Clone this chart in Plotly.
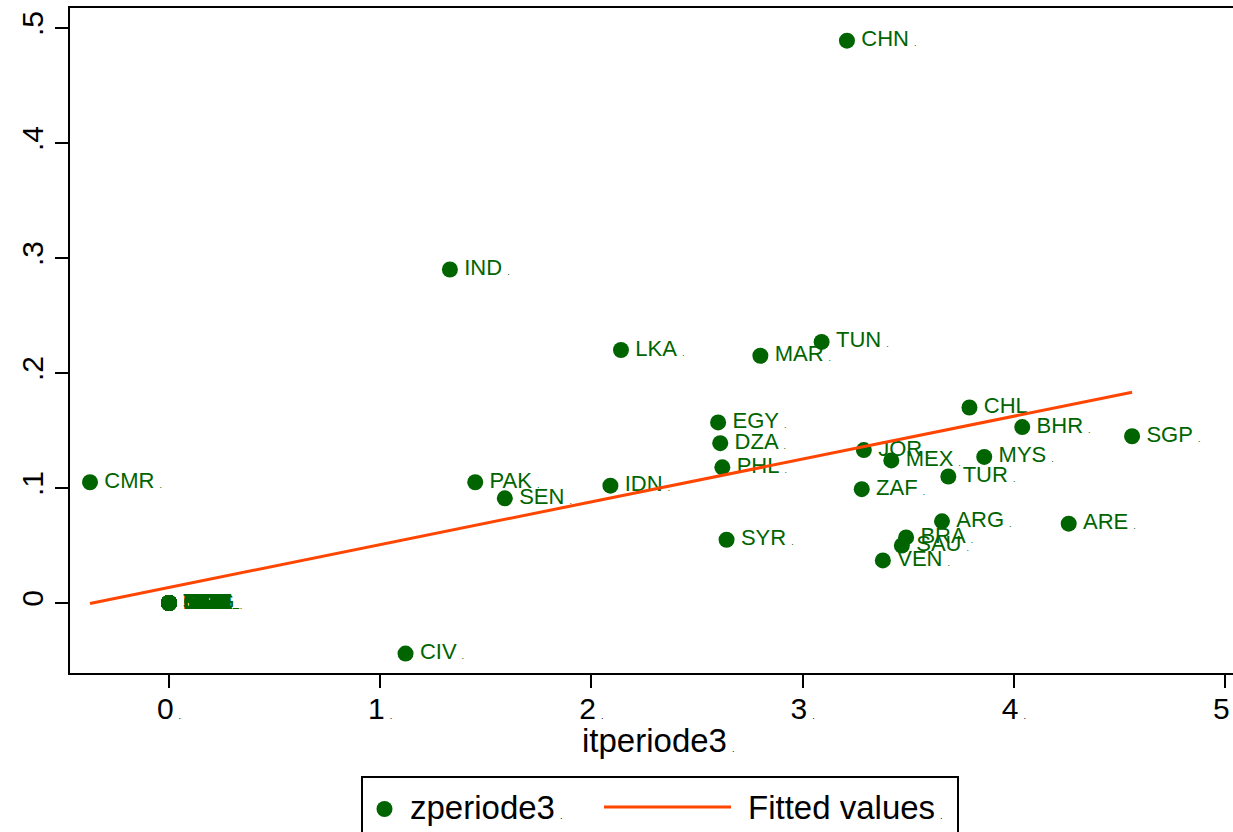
import numpy as np
import plotly.graph_objects as go

# Countries with their (itperiode3, zperiode3) values
countries = ["CHN", "IND", "LKA", "MAR", "TUN", "CHL", "BHR", "SGP", "EGY", "DZA",
             "PHL", "JOR", "MEX", "MYS", "TUR", "ZAF", "CMR", "PAK", "SEN", "IDN",
             "SYR", "ARG", "ARE", "BRA", "SAU", "VEN", "CIV"]
itperiode3 = [3.21, 1.33, 2.14, 2.80, 3.09, 3.79, 4.04, 4.56, 2.60, 2.61,
              2.62, 3.29, 3.42, 3.86, 3.69, 3.28, -0.374, 1.45, 1.59, 2.09,
              2.64, 3.66, 4.26, 3.49, 3.47, 3.38, 1.12]
zperiode3 = [0.489, 0.290, 0.220, 0.215, 0.227, 0.170, 0.153, 0.145, 0.157, 0.139,
             0.118, 0.133, 0.124, 0.127, 0.110, 0.099, 0.105, 0.105, 0.091, 0.102,
             0.055, 0.071, 0.069, 0.057, 0.050, 0.037, -0.044]

# Countries sitting at the origin (both values zero)
zero_countries = ["BGD", "BEN", "BFA", "BOL", "COL", "CRI", "ECU", "ETH", "GHA", "GTM",
                  "HND", "IRN", "JAM", "KEN", "MDG", "MLI", "MOZ", "NER", "NGA", "NIC",
                  "PAN", "PER", "PRY", "SLV", "TGO", "TZA", "UGA", "URY"]
zero_it = [0.0] * len(zero_countries)
zero_z = [0.0] * len(zero_countries)

# Axis ticks
x_ticks = [0, 1, 2, 3, 4, 5]
x_ticklabels = ["0", "1", "2", "3", "4", "5"]
y_ticks = [0, 0.1, 0.2, 0.3, 0.4, 0.5]
y_ticklabels = ["0", ".1", ".2", ".3", ".4", ".5"]

GREEN = "#006400"
ORANGE = "#FF4500"
FONT = "Liberation Sans, Arial, Helvetica, sans-serif"
NBSP = "\u00a0"
LEAD = "<span style='font-size:12px'>" + NBSP + "</span>"
SMALL_DOT = "<span style='font-size:9px'>" + NBSP + NBSP + ".</span>"

names = countries + zero_countries
x = np.array(itperiode3 + zero_it)
y = np.array(zperiode3 + zero_z)

# Linear fit of zperiode3 on itperiode3
slope, intercept = np.polyfit(x, y, 1)
xs = np.sort(x)
fitted = intercept + slope * xs

fig = go.Figure()
fig.add_trace(go.Scatter(
    x=x, y=y, mode="markers+text",
    text=[LEAD + n + SMALL_DOT for n in names],
    textposition="middle right",
    textfont=dict(family=FONT, size=22, color=GREEN),
    marker=dict(size=16, color=GREEN, line=dict(width=0)),
    name="zperiode3", showlegend=False, cliponaxis=False,
))
fig.add_trace(go.Scatter(
    x=xs, y=fitted, mode="lines",
    line=dict(color=ORANGE, width=3),
    name="Fitted values", showlegend=False,
))

W, H = 1233, 832
L, R, T, B = 70, 0, 8, 159
pw, ph = W - L - R, H - T - B


def px(xp):
    return (xp - L) / pw


def py(yp):
    return (H - B - yp) / ph


shapes = [
    # legend frame
    dict(type="rect", xref="paper", yref="paper",
         x0=px(362), x1=px(958), y0=py(850), y1=py(777),
         line=dict(color="black", width=2), fillcolor="white"),
    # legend marker
    dict(type="circle", xref="paper", yref="paper",
         x0=px(376.5), x1=px(392.5), y0=py(817), y1=py(801),
         line=dict(width=0), fillcolor=GREEN),
    # legend line
    dict(type="line", xref="paper", yref="paper",
         x0=px(604), x1=px(731), y0=py(807), y1=py(807),
         line=dict(color=ORANGE, width=3)),
]

annotations = [
    dict(text="zperiode3" + SMALL_DOT, xref="paper", yref="paper",
         x=px(408), y=py(807), xanchor="left", yanchor="middle", showarrow=False,
         font=dict(family=FONT, size=33, color="black")),
    dict(text="Fitted values" + SMALL_DOT, xref="paper", yref="paper",
         x=px(746), y=py(807), xanchor="left", yanchor="middle", showarrow=False,
         font=dict(family=FONT, size=33, color="black")),
    dict(text="itperiode3" + SMALL_DOT, xref="paper", yref="paper",
         x=px(658), y=py(740), xanchor="center", yanchor="middle", showarrow=False,
         font=dict(family=FONT, size=33, color="black")),
]

fig.update_layout(
    width=W, height=H,
    margin=dict(l=L, r=R, t=T, b=B, autoexpand=False),
    paper_bgcolor="white", plot_bgcolor="white",
    showlegend=False,
    shapes=shapes, annotations=annotations,
    font=dict(family=FONT, color="black"),
)
fig.update_xaxes(
    range=[(L - 169) / 211.2, (W - 169) / 211.2],
    tickvals=x_ticks, ticktext=[t + SMALL_DOT for t in x_ticklabels],
    ticks="outside", ticklen=13, tickwidth=2, tickcolor="black",
    tickfont=dict(family=FONT, size=30, color="black"),
    ticklabeloverflow="allow", ticklabelstandoff=-5, automargin=False,
    showline=True, linecolor="black", linewidth=2, mirror=True,
    showgrid=False, zeroline=False,
)
fig.update_yaxes(
    range=[(603 - (H - B)) / 1150, (603 - T) / 1150],
    tickvals=y_ticks, ticktext=y_ticklabels, tickangle=-90,
    ticks="outside", ticklen=13, tickwidth=2, tickcolor="black",
    tickfont=dict(family=FONT, size=30, color="black"), automargin=False,
    showline=True, linecolor="black", linewidth=2, mirror=False,
    showgrid=False, zeroline=False,
)

fig.write_html("out.html")
